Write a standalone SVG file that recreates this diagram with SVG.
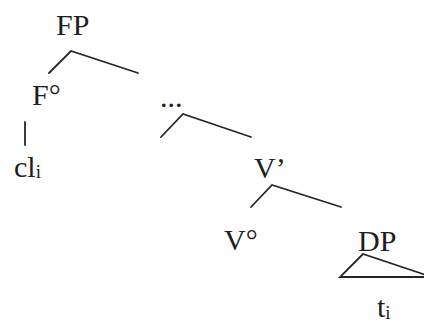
<svg xmlns="http://www.w3.org/2000/svg" width="424" height="325" viewBox="0 0 424 325">
<style>
.t{font-family:"Liberation Serif","Times New Roman",serif;font-size:30px;fill:#1e1e1e}
.s{font-size:19px}
.e{fill:none;stroke:#262626;stroke-width:1.8;stroke-linecap:round;stroke-linejoin:miter}
</style>
<rect width="424" height="325" fill="#ffffff"/>
<g id="connectors">
<polyline class="e" points="49,73 71,51 138,73"/>
<line class="e" x1="25" y1="122" x2="25" y2="145"/>
<polyline class="e" points="161,137 183,114 251,137"/>
<polyline class="e" points="251,207 272,185 341,207"/>
<polygon class="e" points="363,254 340,277 432,277"/>
</g>
<g id="FP"><text class="t" x="56" y="35">FP</text></g>
<g id="F0"><text class="t" x="32" y="105">F°</text></g>
<g id="cli"><text class="t" x="14" y="177">cl<tspan class="s" dy="1">i</tspan></text></g>
<g id="dots"><text class="t" x="160" y="107">...</text></g>
<g id="Vbar"><text class="t" x="254" y="178">V’</text></g>
<g id="V0"><text class="t" x="224" y="250">V°</text></g>
<g id="DP"><text class="t" x="358" y="251">DP</text></g>
<g id="ti"><text class="t" x="377" y="317">t<tspan class="s" dy="2">i</tspan></text></g>
</svg>
